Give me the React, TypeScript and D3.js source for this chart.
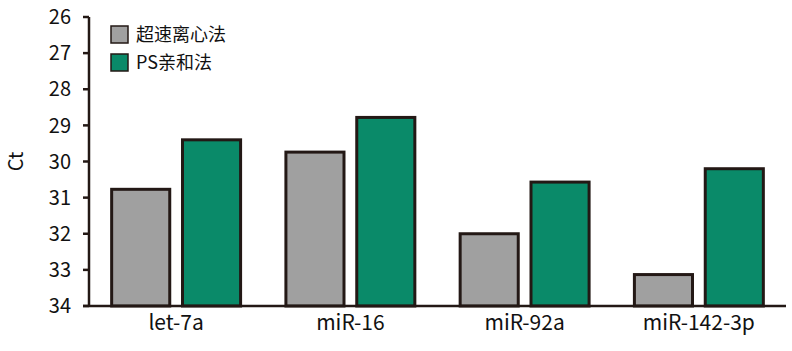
import React from "react";
import * as d3 from "d3";

const WIDTH = 792;
const HEIGHT = 351;
const MARGIN = { top: 17, right: 6, bottom: 45, left: 89 };

const categories = ["let-7a", "miR-16", "miR-92a", "miR-142-3p"];
const seriesNames = ["超速离心法", "PS亲和法"];
const ultraValues = [30.77, 29.74, 32.0, 33.13];
const psValues = [29.4, 28.78, 30.57, 30.2];
const yTicks = [26, 27, 28, 29, 30, 31, 32, 33, 34];

const COLORS = ["#a0a0a0", "#0a8a69"];
const INK = "#231815";
const FONT = "'Noto Sans CJK SC', 'Noto Sans', sans-serif";

export default function App() {
  const boundsWidth = WIDTH - MARGIN.left - MARGIN.right;
  const boundsHeight = HEIGHT - MARGIN.top - MARGIN.bottom;

  const yScale = d3.scaleLinear().domain([26, 34]).range([0, boundsHeight]);
  const xScale = d3.scaleBand().domain(categories).range([0, boundsWidth]).paddingInner(0.26).paddingOuter(0.13);
  const inner = d3.scaleBand().domain(seriesNames).range([0, xScale.bandwidth()]).paddingInner(0.18);

  const series = [ultraValues, psValues];

  return (
    <svg width={WIDTH} height={HEIGHT} style={{ position: "absolute", left: 0, top: 0 }} fontFamily={FONT}>
      <g transform={`translate(${MARGIN.left},${MARGIN.top})`}>
        {/* bars */}
        {categories.map((c, i) =>
          series.map((vals, s) => {
            const y0 = yScale(vals[i]);
            return (
              <rect
                key={c + s}
                x={(xScale(c) ?? 0) + (inner(seriesNames[s]) ?? 0)}
                y={y0}
                width={inner.bandwidth()}
                height={boundsHeight - y0}
                fill={COLORS[s]}
                stroke={INK}
                strokeWidth={3}
              />
            );
          })
        )}

        {/* y axis */}
        <line x1={0} x2={0} y1={yScale(26)} y2={boundsHeight} stroke={INK} strokeWidth={2.5} />
        {yTicks.map((t) => (
          <g key={t} transform={`translate(0,${yScale(t)})`}>
            <line x1={-6} x2={0} stroke={INK} strokeWidth={2.5} />
            <text x={-18} dy="0.36em" textAnchor="end" fontSize={20} fill="#111">
              {t}
            </text>
          </g>
        ))}

        {/* x axis */}
        <line x1={-6} x2={boundsWidth} y1={boundsHeight} y2={boundsHeight} stroke={INK} strokeWidth={2.5} />
        {categories.map((c) => (
          <text
            key={c}
            x={(xScale(c) ?? 0) + xScale.bandwidth() / 2}
            y={boundsHeight + 24}
            textAnchor="middle"
            fontSize={21}
            fill="#111"
          >
            {c}
          </text>
        ))}

        {/* legend */}
        {seriesNames.map((name, s) => (
          <g key={name} transform={`translate(22,${9 + s * 28})`}>
            <rect width={17} height={17} fill={COLORS[s]} stroke={INK} strokeWidth={1.5} />
            <text x={25} y={8.5} dy="0.36em" fontSize={18} fill="#111">
              {name}
            </text>
          </g>
        ))}
      </g>
      <text transform={`translate(23,${MARGIN.top + yScale(30)}) rotate(-90)`} textAnchor="middle" fontSize={20} fill="#111">
        Ct
      </text>
    </svg>
  );
}
